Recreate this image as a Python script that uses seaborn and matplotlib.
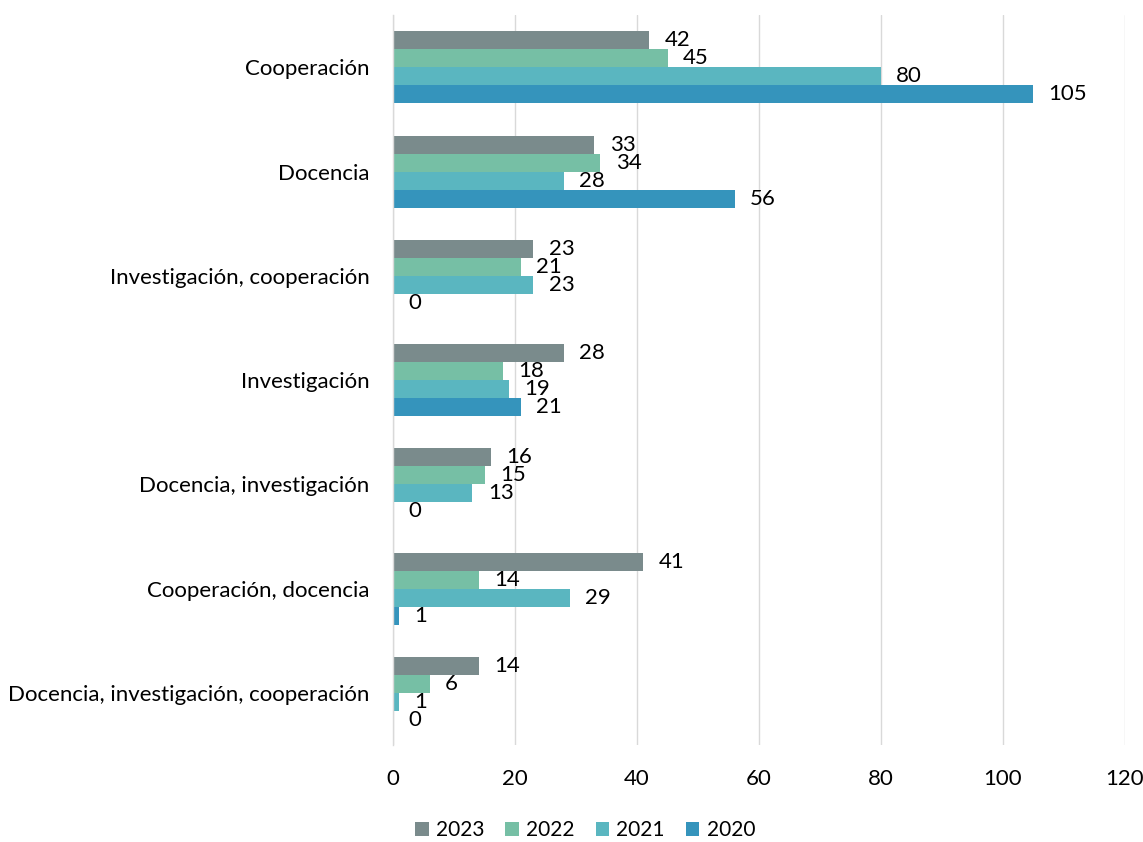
import matplotlib
matplotlib.use("Agg")
import matplotlib.pyplot as plt
import seaborn as sns
import pandas as pd

categories = ["Cooperación", "Docencia", "Investigación, cooperación", "Investigación",
              "Docencia, investigación", "Cooperación, docencia",
              "Docencia, investigación, cooperación"]
years = ["2023", "2022", "2021", "2020"]
v2023 = [42, 33, 23, 28, 16, 41, 14]
v2022 = [45, 34, 21, 18, 15, 14, 6]
v2021 = [80, 28, 23, 19, 13, 29, 1]
v2020 = [105, 56, 0, 21, 0, 1, 0]
colors = ["#7a8b8c", "#76bfa5", "#5ab6c0", "#3594bc"]

rows = []
for y, vals in zip(years, [v2023, v2022, v2021, v2020]):
    for c, v in zip(categories, vals):
        rows.append({"cat": c, "year": y, "value": v})
df = pd.DataFrame(rows)

sns.set_style("white")
plt.rcParams['font.family'] = ['Lato', 'DejaVu Sans']
plt.rcParams['text.color'] = 'black'

FS = 16
fig = plt.figure(figsize=(11.43, 8.42), dpi=100)
ax = fig.add_axes([0.344, 0.115, 0.640, 0.867])
sns.barplot(data=df, y="cat", x="value", hue="year", order=categories,
            hue_order=years, palette=colors, orient="h", width=0.69,
            saturation=1, ax=ax, errorbar=None, linewidth=0)

for cont in ax.containers:
    ax.bar_label(cont, padding=11, fontsize=FS, color="black")

ax.set_xlim(0, 120)
ax.set_ylim(6.5, -0.5)
ax.set_xticks(range(0, 121, 20))
ax.xaxis.grid(True, color="#d9d9d9", linewidth=1)
ax.set_axisbelow(True)
for s in ["top", "right", "bottom"]:
    ax.spines[s].set_visible(False)
ax.spines["left"].set_color("#d9d9d9")
ax.spines["left"].set_linewidth(1)
ax.tick_params(axis="both", length=0, labelsize=FS, colors="black")
ax.tick_params(axis="x", pad=17)
ax.tick_params(axis="y", pad=17)
ax.set_xlabel("")
ax.set_ylabel("")

leg = ax.legend(loc="center", bbox_to_anchor=(0.512, 0.014), bbox_transform=fig.transFigure,
                ncol=4, frameon=False, fontsize=15, handlelength=0.65, handleheight=0.65,
                columnspacing=1.0, handletextpad=0.35, labelcolor="black")

fig.savefig("out.png", dpi=100)
